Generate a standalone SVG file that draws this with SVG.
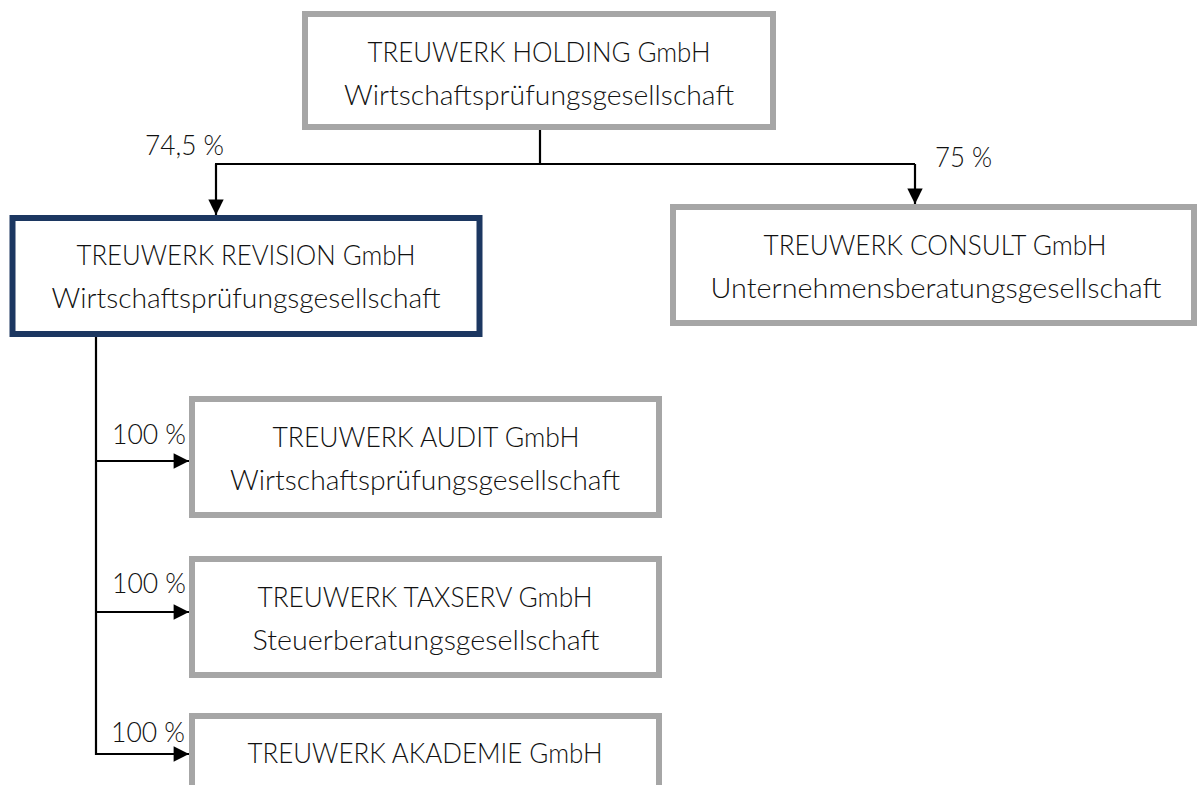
<svg xmlns="http://www.w3.org/2000/svg" width="1197" height="785" viewBox="0 0 1197 785">
<defs>
<marker id="arr" viewBox="0 0 10 10" refX="10" refY="5" markerWidth="7.5" markerHeight="7" markerUnits="strokeWidth" orient="auto">
<path d="M0,0 L10,5 L0,10 Z" fill="#000"/>
</marker>
<style>
.box{fill:#fff;stroke:#a6a6a6;stroke-width:6}
.main{fill:#fff;stroke:#1c3761;stroke-width:6}
text{font-family:"Lato","Open Sans","Liberation Sans",sans-serif;font-weight:300;font-size:28px;fill:#111;text-anchor:middle}
.lbl{text-anchor:start}
.con{fill:none;stroke:#000;stroke-width:2.2}
</style>
</defs>
<rect width="1197" height="785" fill="#fff"/>
<g id="connectors">
<path class="con" d="M540,130 V164 M215,164 H915"/>
<path class="con" d="M216,164 V215" marker-end="url(#arr)"/>
<path class="con" d="M915,164 V204" marker-end="url(#arr)"/>
<path class="con" d="M96,337 V755"/>
<path class="con" d="M95,461 H189" marker-end="url(#arr)"/>
<path class="con" d="M95,612 H189" marker-end="url(#arr)"/>
<path class="con" d="M95,754 H189" marker-end="url(#arr)"/>
<text class="lbl" x="145" y="155" textLength="79" lengthAdjust="spacingAndGlyphs">74,5 %</text>
<text class="lbl" x="935" y="167" textLength="57" lengthAdjust="spacingAndGlyphs">75 %</text>
<text class="lbl" x="112" y="444" textLength="74" lengthAdjust="spacingAndGlyphs">100 %</text>
<text class="lbl" x="112" y="593" textLength="74" lengthAdjust="spacingAndGlyphs">100 %</text>
<text class="lbl" x="111" y="742" textLength="74" lengthAdjust="spacingAndGlyphs">100 %</text>
</g>
<g id="holding">
<rect class="box" x="305" y="14" width="468" height="113"/>
<text x="539" y="62" textLength="343" lengthAdjust="spacingAndGlyphs">TREUWERK HOLDING GmbH</text>
<text x="539" y="105" textLength="390" lengthAdjust="spacingAndGlyphs">Wirtschaftsprüfungsgesellschaft</text>
</g>
<g id="revision">
<rect class="main" x="12.5" y="218" width="467" height="116"/>
<text x="246" y="265" textLength="339" lengthAdjust="spacingAndGlyphs">TREUWERK REVISION GmbH</text>
<text x="246" y="308" textLength="389" lengthAdjust="spacingAndGlyphs">Wirtschaftsprüfungsgesellschaft</text>
</g>
<g id="consult">
<rect class="box" x="673" y="207" width="521" height="116"/>
<text x="935" y="255" textLength="343" lengthAdjust="spacingAndGlyphs">TREUWERK CONSULT GmbH</text>
<text x="936" y="298" textLength="451" lengthAdjust="spacingAndGlyphs">Unternehmensberatungsgesellschaft</text>
</g>
<g id="audit">
<rect class="box" x="192" y="399" width="467" height="116"/>
<text x="426" y="447" textLength="307" lengthAdjust="spacingAndGlyphs">TREUWERK AUDIT GmbH</text>
<text x="425" y="490" textLength="390" lengthAdjust="spacingAndGlyphs">Wirtschaftsprüfungsgesellschaft</text>
</g>
<g id="taxserv">
<rect class="box" x="192" y="559" width="467" height="116"/>
<text x="425" y="607" textLength="335" lengthAdjust="spacingAndGlyphs">TREUWERK TAXSERV GmbH</text>
<text x="426" y="650" textLength="347" lengthAdjust="spacingAndGlyphs">Steuerberatungsgesellschaft</text>
</g>
<g id="akademie">
<rect class="box" x="192" y="716" width="467" height="116"/>
<text x="425" y="763" textLength="355" lengthAdjust="spacingAndGlyphs">TREUWERK AKADEMIE GmbH</text>
</g>
</svg>
